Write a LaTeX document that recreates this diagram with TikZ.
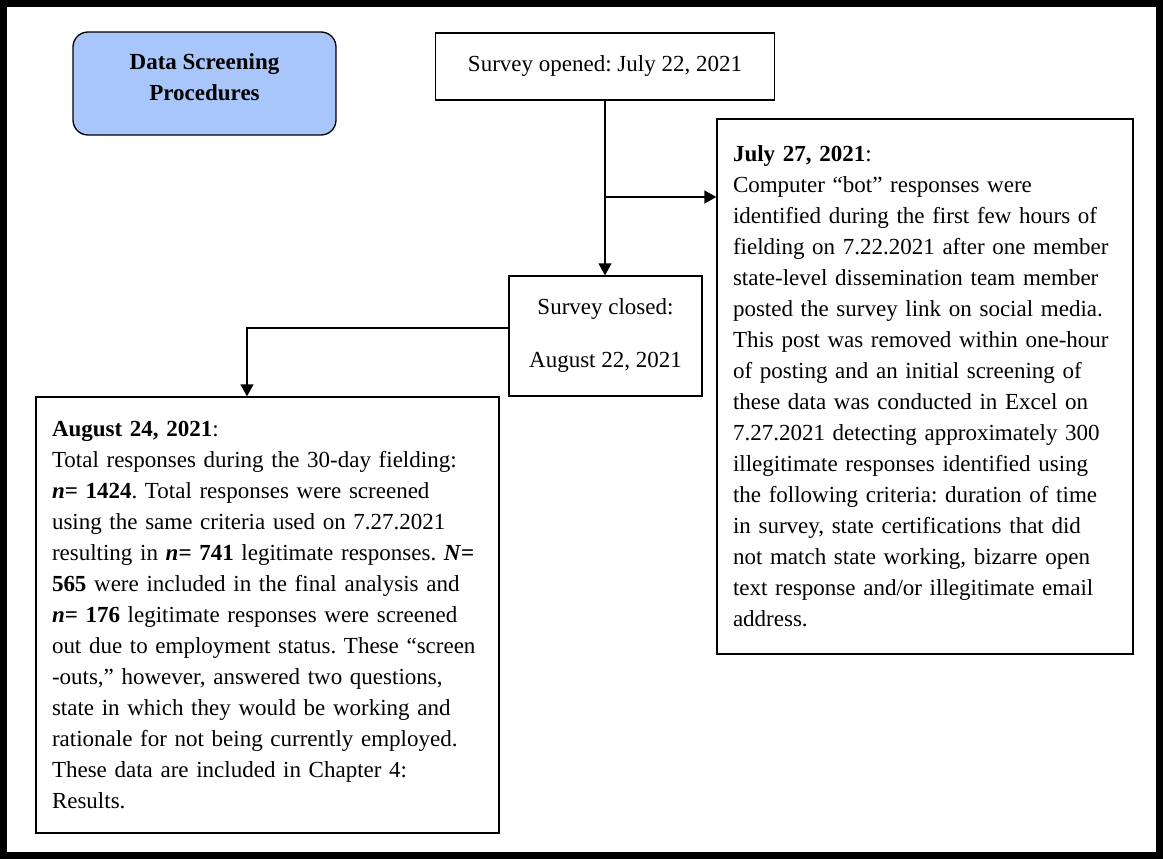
\documentclass[tikz,border=0pt]{standalone}
\usepackage{fontspec}
\setmainfont{Liberation Serif}
\usetikzlibrary{arrows.meta}
\definecolor{boxblue}{HTML}{A9C6FA}
\frenchspacing

\begin{document}
\begin{tikzpicture}[x=1pt, y=-1pt,
        box/.style = {draw, line width=1.3pt, font=\fontsize{23}{31}\selectfont},
        textbox/.style = {box, align=left, inner xsep=16pt},
        arr/.style = {line width=1.3pt, -{Triangle[length=12pt, width=13pt]}}]
        \useasboundingbox (0, 0) rectangle (1163, 859);
        \draw[line width=7pt] (3.5, 3.5) rectangle (1159.5, 855.5);

        \node[box, fill=boxblue, rounded corners=15pt, align=center, minimum width=263pt, minimum height=103pt, font=\fontsize{23}{31}\selectfont\bfseries] (title) at (204.5, 83.5) {Data Screening\\Procedures\\[-19pt]};
        \node[box, minimum width=339pt, minimum height=67pt] (opened) at (605, 66.5) {Survey opened: July 22, 2021};
        \node[box, align=center, minimum width=193pt, minimum height=120pt, font=\fontsize{23}{53}\selectfont] (closed) at (605.5, 336) {Survey closed:\\August 22, 2021};

        \node[textbox, text width=384pt, minimum height=535pt] (bots) at (925, 386.5) {\textbf{July 27, 2021}:\\
            Computer “bot” responses were\\
            identified during the first few hours of\\
            fielding on 7.22.2021 after one member\\
            state-level dissemination team member\\
            posted the survey link on social media.\\
            This post was removed within one-hour\\
            of posting and an initial screening of\\
            these data was conducted in Excel on\\
            7.27.2021 detecting approximately 300\\
            illegitimate responses identified using\\
            the following criteria: duration of time\\
            in survey, state certifications that did\\
            not match state working, bizarre open\\
            text response and/or illegitimate email\\
            address.};

        \node[textbox, text width=431pt, minimum height=436pt] (final) at (267.5, 615) {\textbf{August 24, 2021}:\\
            Total responses during the 30-day fielding:\\
            \textbf{\textit{n}= 1424}. Total responses were screened\\
            using the same criteria used on 7.27.2021\\
            resulting in \textbf{\textit{n}= 741} legitimate responses. \textbf{\textit{N}=}\\
            \textbf{565} were included in the final analysis and\\
            \textbf{\textit{n}= 176} legitimate responses were screened\\
            out due to employment status. These “screen\\
            -outs,” however, answered two questions,\\
            state in which they would be working and\\
            rationale for not being currently employed.\\
            These data are included in Chapter 4:\\
            Results.};

        % connectors
        \coordinate (fork) at (605, 197);
        \coordinate (bend) at (247, 328);
        \draw[arr] (opened.south) -- (opened.south |- closed.north);
        \draw[arr] (fork) -- (fork -| bots.west);
        \draw[arr] (bend -| closed.west) -- (bend) -- (bend |- final.north);
    \end{tikzpicture}
\end{document}
